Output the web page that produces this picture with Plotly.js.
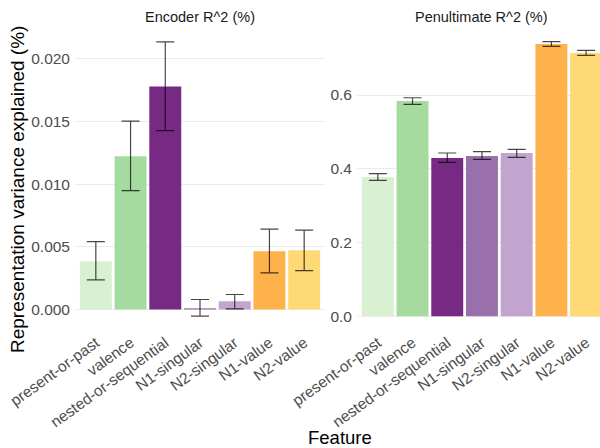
<!DOCTYPE html>
<html>
<head>
<meta charset="utf-8">
<script src="https://cdn.plot.ly/plotly-3.0.1.min.js"></script>
<style>html,body{margin:0;padding:0;background:#fff;}#chart{width:600px;height:448px;}</style>
</head>
<body>
<div id="chart"></div>
<script>
// ---- data ----
const features = ["present-or-past", "valence", "nested-or-sequential", "N1-singular", "N2-singular", "N1-value", "N2-value"];
const barColors = ["#d9f0d3", "#a6dba0", "#762a83", "#9970ab", "#c2a5cf", "#feb24c", "#fed976"];

const encoderR2 = [0.00385, 0.01222, 0.01779, 0.00010, 0.00066, 0.00465, 0.00473];
const encoderUpper = [0.00542, 0.01503, 0.02135, 0.00080, 0.00120, 0.00642, 0.00634];
const encoderLower = [0.00236, 0.00948, 0.01426, -0.00053, 0.00005, 0.00292, 0.00311];

const penultR2 = [0.3777, 0.5838, 0.4292, 0.4347, 0.4428, 0.7383, 0.7139];
const penultUpper = [0.3867, 0.5927, 0.4428, 0.4463, 0.4528, 0.7446, 0.7213];
const penultLower = [0.3688, 0.5748, 0.4176, 0.4257, 0.4311, 0.7321, 0.7077];

const panelTitles = ["Encoder R^2 (%)", "Penultimate R^2 (%)"];
const encTicks = [0, 0.005, 0.010, 0.015, 0.020];
const penTicks = [0, 0.2, 0.4, 0.6];

// ---- helpers ----
const W = 600, H = 448;
const px = v => v / W;
const py = v => 1 - v / H;

function errPlus(vals, up) { return vals.map((v, i) => up[i] - v); }
function errMinus(vals, lo) { return vals.map((v, i) => v - lo[i]); }

const errStyle = { color: "rgba(0,0,0,0.72)", thickness: 1.2, width: 9 };

const traces = [
  {
    type: "bar", x: features, y: encoderR2, xaxis: "x", yaxis: "y",
    marker: { color: barColors, line: { width: 0 } },
    error_y: Object.assign({ type: "data", symmetric: false, array: errPlus(encoderR2, encoderUpper), arrayminus: errMinus(encoderR2, encoderLower) }, errStyle),
    showlegend: false, hoverinfo: "x+y"
  },
  {
    type: "bar", x: features, y: penultR2, xaxis: "x2", yaxis: "y2",
    marker: { color: barColors, line: { width: 0 } },
    error_y: Object.assign({ type: "data", symmetric: false, array: errPlus(penultR2, penultUpper), arrayminus: errMinus(penultR2, penultLower) }, errStyle),
    showlegend: false, hoverinfo: "x+y"
  }
];

const tickFont = { family: "Liberation Sans, Arial, sans-serif", size: 15.5, color: "#4d4d4d" };
const yDomain = [py(330), py(28)];

const xCommon = {
  type: "category", showgrid: false, zeroline: false, showline: false, ticks: "",
  tickangle: -36, tickfont: tickFont, automargin: false, fixedrange: true
};
const yCommon = {
  showgrid: true, gridcolor: "#ebebeb", gridwidth: 1, zeroline: false, showline: false,
  ticks: "", tickfont: tickFont, automargin: false, domain: yDomain, ticklabelstandoff: 4
};

const layout = {
  width: W, height: H,
  margin: { l: 0, r: 0, t: 0, b: 0 },
  paper_bgcolor: "#fff", plot_bgcolor: "#fff",
  bargap: 0.08,
  font: { family: "Liberation Sans, Arial, sans-serif" },
  xaxis: Object.assign({}, xCommon, { domain: [px(75), px(325)], range: [-0.6, 6.6], anchor: "y" }),
  xaxis2: Object.assign({}, xCommon, { domain: [px(357), 1], range: [-0.6, 6.40], anchor: "y2" }),
  yaxis: Object.assign({}, yCommon, { anchor: "x", range: [-0.00163, 0.02245], tickvals: encTicks, ticktext: encTicks.map(v => v.toFixed(3)) }),
  yaxis2: Object.assign({}, yCommon, { anchor: "x2", range: [-0.0372, 0.7818], tickvals: penTicks, ticktext: penTicks.map(v => v.toFixed(1)) }),
  annotations: [
    { text: panelTitles[0], x: px(200), y: py(17), xref: "paper", yref: "paper", showarrow: false, xanchor: "center", yanchor: "middle", font: { size: 14.5, color: "#1a1a1a" } },
    { text: panelTitles[1], x: px(481.5), y: py(17), xref: "paper", yref: "paper", showarrow: false, xanchor: "center", yanchor: "middle", font: { size: 14.5, color: "#1a1a1a" } },
    { text: "Representation variance explained (%)", x: px(18), y: py(190), xref: "paper", yref: "paper", showarrow: false, textangle: -90, xanchor: "center", yanchor: "middle", font: { size: 19, color: "#000" } },
    { text: "Feature", x: px(340), y: py(437), xref: "paper", yref: "paper", showarrow: false, xanchor: "center", yanchor: "middle", font: { size: 18.5, color: "#000" } }
  ]
};

Plotly.newPlot("chart", traces, layout, { displayModeBar: false, staticPlot: true });
</script>
</body>
</html>
